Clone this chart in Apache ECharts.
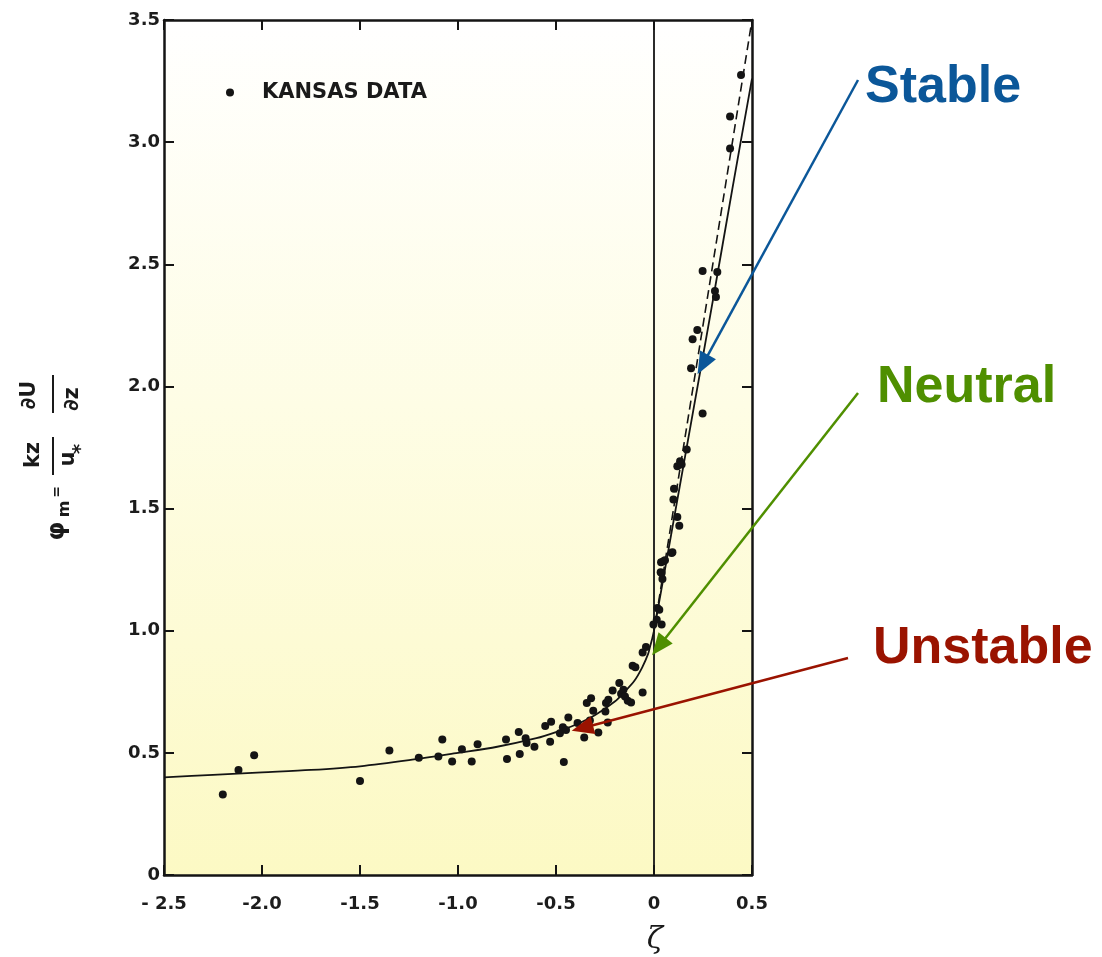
<!DOCTYPE html>
<html>
<head>
<meta charset="utf-8">
<script src="https://cdn.jsdelivr.net/npm/echarts@6/dist/echarts.min.js"></script>
<style>
html,body{margin:0;padding:0;background:#ffffff;}
#chart{width:1102px;height:957px;}
</style>
</head>
<body>
<div id="chart"></div>
<script>
// ---- data ----
const xTickLabels = ['- 2.5', '-2.0', '-1.5', '-1.0', '-0.5', '0', '0.5'];
const yTickLabels = ['0', '0.5', '1.0', '1.5', '2.0', '2.5', '3.0', '3.5'];

// Kansas observations (zeta, phi_m)
const obsZeta = [-2.20, -2.12, -2.04, -1.50, -1.35, -1.20, -1.10, -1.08, -1.03, -0.98, -0.93, -0.90,
  -0.755, -0.75, -0.69, -0.685, -0.655, -0.65, -0.61, -0.555, -0.53, -0.525, -0.48, -0.465, -0.46,
  -0.437, -0.449, -0.39, -0.356, -0.343, -0.321, -0.327, -0.31, -0.284, -0.245, -0.233, -0.236,
  -0.248, -0.211, -0.177, -0.168, -0.156, -0.148, -0.134, -0.117, -0.058, -0.109, -0.095, -0.058,
  -0.041, -0.003, 0.039, 0.014, 0.017, 0.027, 0.034, 0.043, 0.039, 0.036, 0.048, 0.056, 0.090,
  0.094, 0.099, 0.102, 0.119, 0.129, 0.119, 0.133, 0.141, 0.167, 0.248, 0.189, 0.197, 0.221,
  0.248, 0.323, 0.311, 0.316, 0.388, 0.388, 0.444];
const obsPhi = [0.33, 0.43, 0.49, 0.385, 0.51, 0.48, 0.485, 0.555, 0.465, 0.515, 0.465, 0.535,
  0.555, 0.475, 0.585, 0.495, 0.56, 0.54, 0.525, 0.61, 0.545, 0.627, 0.58, 0.605, 0.463,
  0.645, 0.594, 0.622, 0.563, 0.704, 0.724, 0.632, 0.672, 0.583, 0.704, 0.717, 0.624,
  0.669, 0.755, 0.786, 0.742, 0.758, 0.731, 0.713, 0.706, 0.747, 0.857, 0.85, 0.911,
  0.933, 1.025, 1.025, 1.045, 1.093, 1.086, 1.239, 1.212, 1.236, 1.28, 1.284, 1.288, 1.318,
  1.321, 1.537, 1.581, 1.466, 1.43, 1.673, 1.694, 1.68, 1.742, 1.889, 2.074, 2.193, 2.231,
  2.473, 2.468, 2.391, 2.366, 2.974, 3.105, 3.275];

// solid fitted curve
const curveZeta = [-2.5, -2.25, -2.0, -1.75, -1.5, -1.25, -1.0, -0.8, -0.6, -0.5, -0.4, -0.3,
  -0.2, -0.15, -0.1, -0.06, -0.03, -0.02, -0.01, 0, 0.1, 0.2, 0.3, 0.4, 0.5];
const curvePhi = [0.40, 0.41, 0.42, 0.43, 0.445, 0.47, 0.50, 0.525, 0.56, 0.585, 0.615, 0.655,
  0.71, 0.75, 0.795, 0.85, 0.905, 0.935, 0.965, 1.0, 1.45, 1.9, 2.35, 2.81, 3.26];

// dashed line (stable side)
const dashZeta = [0, 0.5];
const dashPhi = [1.0, 3.5];

// annotation arrow tips (data coordinates)
const annotNames = ['Stable', 'Neutral', 'Unstable'];
const annotTips = [[0.222, 2.05], [-0.01, 0.90], [-0.42, 0.59]];

// ---- chart ----
const zip = (a, b) => a.map((v, i) => [v, b[i]]);
const ink = '#141414';
const tickFont = {fontFamily: 'DejaVu Sans', fontWeight: 'bold', fontSize: 18, color: '#1c1c1c'};

const chart = echarts.init(document.getElementById('chart'), null, {renderer: 'canvas'});

const axisCommon = {
  type: 'value',
  axisLine: {show: true, onZero: false, lineStyle: {color: ink, width: 2.5}},
  axisTick: {show: true, inside: true, length: 10, lineStyle: {color: ink, width: 2}},
  splitLine: {show: false}
};

chart.setOption({
  animation: false,
  backgroundColor: '#ffffff',
  grid: {
    left: 164, right: 350, top: 20, bottom: 82, show: true, borderWidth: 0,
    backgroundColor: {
      type: 'linear', x: 0, y: 0, x2: 0, y2: 1,
      colorStops: [
        {offset: 0, color: '#ffffff'},
        {offset: 0.45, color: '#fefde5'},
        {offset: 1, color: '#fcf9c4'}
      ]
    }
  },
  legend: {
    show: true,
    data: ['KANSAS DATA'],
    left: 226, top: 82, padding: 0,
    icon: 'circle', itemWidth: 8, itemHeight: 8,
    selectedMode: false,
    textStyle: {fontFamily: 'DejaVu Sans', fontWeight: 'bold', fontSize: 21, color: '#1a1a1a', padding: [0, 0, 0, 23]}
  },
  xAxis: [
    Object.assign({}, axisCommon, {
      position: 'bottom', min: -2.5, max: 0.5, interval: 0.5,
      axisLabel: Object.assign({margin: 20, formatter: v => xTickLabels[Math.round((v + 2.5) / 0.5)]}, tickFont)
    }),
    Object.assign({}, axisCommon, {
      position: 'top', min: -2.5, max: 0.5, interval: 0.5,
      axisLabel: {show: false}
    })
  ],
  yAxis: [
    Object.assign({}, axisCommon, {
      position: 'left', min: 0, max: 3.5, interval: 0.5,
      axisLabel: Object.assign({margin: 4, formatter: v => yTickLabels[Math.round(v / 0.5)]}, tickFont)
    }),
    Object.assign({}, axisCommon, {
      position: 'right', min: 0, max: 3.5, interval: 0.5,
      axisLabel: {show: false}
    })
  ],
  series: [
    {
      name: 'fit', type: 'line', data: zip(curveZeta, curvePhi),
      showSymbol: false, smooth: 0.3, silent: true,
      lineStyle: {color: ink, width: 1.8}, z: 2,
      markLine: {
        silent: true, symbol: ['none', 'none'], label: {show: false},
        lineStyle: {color: ink, width: 1.8, type: 'solid'},
        data: [{xAxis: 0}]
      }
    },
    {
      name: 'dashed', type: 'line', data: zip(dashZeta, dashPhi),
      showSymbol: false, silent: true,
      lineStyle: {color: ink, width: 1.6, type: [9, 5]}, z: 2
    },
    {
      name: 'KANSAS DATA', type: 'scatter', data: zip(obsZeta, obsPhi),
      symbol: 'circle', symbolSize: 8, itemStyle: {color: ink, opacity: 1}, z: 3
    }
  ]
});

// ---- annotations ----
const annotColors = ['#0b5799', '#4f8f00', '#9a1300'];
const annotStarts = [[858, 80], [858, 393], [848, 658]];
const annotTextPos = [[865, 88], [877, 388], [873, 649]];

const graphics = [];
annotTips.forEach((tipData, i) => {
  const tip = chart.convertToPixel({gridIndex: 0}, tipData);
  const s = annotStarts[i];
  const dx = tip[0] - s[0], dy = tip[1] - s[1];
  const L = Math.hypot(dx, dy);
  const ux = dx / L, uy = dy / L;
  const nx = -uy, ny = ux;
  const hl = 22, hw = 9;
  const bx = tip[0] - ux * hl, by = tip[1] - uy * hl;
  graphics.push({
    type: 'line', silent: true, z: 10,
    shape: {x1: s[0], y1: s[1], x2: bx + ux * 2, y2: by + uy * 2},
    style: {stroke: annotColors[i], lineWidth: 2.5}
  });
  graphics.push({
    type: 'polygon', silent: true, z: 10,
    shape: {points: [[tip[0], tip[1]], [bx + nx * hw, by + ny * hw], [bx - nx * hw, by - ny * hw]]},
    style: {fill: annotColors[i]}
  });
  graphics.push({
    type: 'text', silent: true, z: 10,
    x: annotTextPos[i][0], y: annotTextPos[i][1],
    style: {
      text: annotNames[i], fill: annotColors[i],
      font: 'bold 52px "Liberation Sans", Arial, sans-serif',
      textAlign: 'left', textVerticalAlign: 'middle'
    }
  });
});

// x-axis title
graphics.push({
  type: 'text', silent: true, x: 655, y: 940,
  style: {text: 'ζ', fill: '#1a1a1a', font: 'italic 30px "DejaVu Serif", serif', textAlign: 'center', textVerticalAlign: 'middle'}
});

// y-axis title: φm = (kz/u*)(∂U/∂z), rotated
const tf = (sz) => 'bold ' + sz + 'px "DejaVu Sans", sans-serif';
graphics.push({
  type: 'group', silent: true, x: 53, y: 540, rotation: Math.PI / 2,
  children: [
    {type: 'text', x: 9, y: 5, style: {text: 'φ', fill: '#1a1a1a', font: tf(24), textAlign: 'center', textVerticalAlign: 'middle'}},
    {type: 'text', x: 31, y: 12, style: {text: 'm', fill: '#1a1a1a', font: tf(16), textAlign: 'center', textVerticalAlign: 'middle'}},
    {type: 'text', x: 48, y: 4, style: {text: '=', fill: '#1a1a1a', font: tf(14), textAlign: 'center', textVerticalAlign: 'middle'}},
    {type: 'text', x: 85, y: -19, style: {text: 'kz', fill: '#1a1a1a', font: tf(21), textAlign: 'center', textVerticalAlign: 'middle'}},
    {type: 'line', shape: {x1: 65, y1: 0, x2: 103, y2: 0}, style: {stroke: '#1a1a1a', lineWidth: 2}},
    {type: 'text', x: 81, y: 16, style: {text: 'u', fill: '#1a1a1a', font: tf(21), textAlign: 'center', textVerticalAlign: 'middle'}},
    {type: 'text', x: 91, y: 28, style: {text: '*', fill: '#1a1a1a', font: tf(20), textAlign: 'center', textVerticalAlign: 'middle'}},
    {type: 'text', x: 145, y: -23, style: {text: '∂U', fill: '#1a1a1a', font: tf(21), textAlign: 'center', textVerticalAlign: 'middle'}},
    {type: 'line', shape: {x1: 127, y1: 0, x2: 165, y2: 0}, style: {stroke: '#1a1a1a', lineWidth: 2}},
    {type: 'text', x: 141, y: 20, style: {text: '∂z', fill: '#1a1a1a', font: tf(21), textAlign: 'center', textVerticalAlign: 'middle'}}
  ]
});

chart.setOption({graphic: graphics});
</script>
</body>
</html>
